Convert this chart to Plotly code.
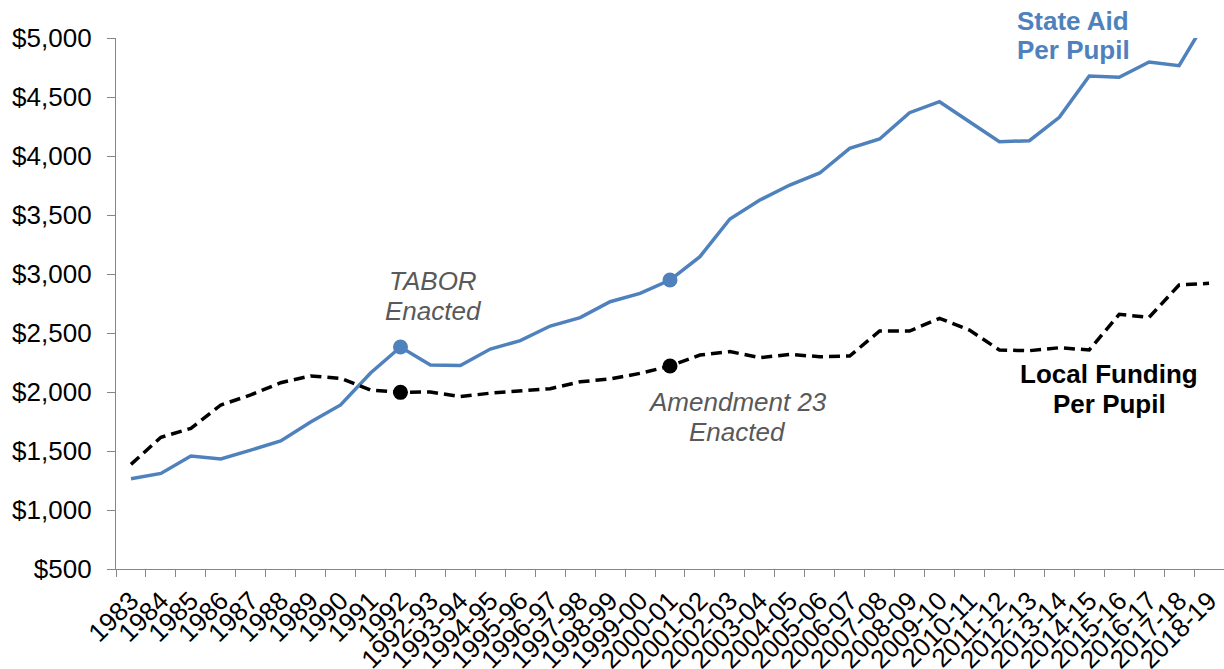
import plotly.graph_objects as go

years = ["1983", "1984", "1985", "1986", "1987", "1988", "1989", "1990", "1991", "1992",
         "1992-93", "1993-94", "1994-95", "1995-96", "1996-97", "1997-98", "1998-99",
         "1999-00", "2000-01", "2001-02", "2002-03", "2003-04", "2004-05", "2005-06",
         "2006-07", "2007-08", "2008-09", "2009-10", "2010-11", "2011-12", "2012-13",
         "2013-14", "2014-15", "2015-16", "2016-17", "2017-18", "2018-19"]

state_aid = [1265, 1310, 1458, 1432, 1508, 1585, 1746, 1890, 2161, 2381,
             2229, 2225, 2364, 2435, 2559, 2630, 2765, 2836, 2949, 3147,
             3466, 3627, 3754, 3856, 4065, 4144, 4367, 4460, 4290, 4121,
             4130, 4328, 4678, 4667, 4797, 4765, 5190]

local_funding = [1387, 1616, 1692, 1890, 1975, 2079, 2136, 2116, 2017, 1997,
                 2000, 1961, 1990, 2011, 2028, 2087, 2110, 2158, 2220, 2313,
                 2342, 2291, 2319, 2299, 2305, 2517, 2517, 2624, 2525, 2356,
                 2350, 2375, 2356, 2658, 2633, 2907, 2921]

event_years = ["1992", "2000-01"]

BLUE = "#4F81BD"
GRAY = "#595959"
AXIS = "#868686"
FONT = "Liberation Sans, Arial, sans-serif"

ev_idx = [years.index(y) for y in event_years]

fig = go.Figure()
fig.add_trace(go.Scatter(x=years, y=state_aid, mode="lines",
                         line=dict(color=BLUE, width=3.5), showlegend=False))
fig.add_trace(go.Scatter(x=years, y=local_funding, mode="lines",
                         line=dict(color="black", width=3.5, dash="11px,6px"),
                         showlegend=False))
fig.add_trace(go.Scatter(x=event_years, y=[state_aid[i] for i in ev_idx], mode="markers",
                         marker=dict(color=BLUE, size=15), showlegend=False, cliponaxis=False))
fig.add_trace(go.Scatter(x=event_years, y=[local_funding[i] for i in ev_idx], mode="markers",
                         marker=dict(color="black", size=15), showlegend=False, cliponaxis=False))

def ann(text, x, y, color, bold=False, italic=False, xanchor="center"):
    t = text
    if bold:
        t = "<b>" + t + "</b>"
    if italic:
        t = "<i>" + t + "</i>"
    fig.add_annotation(text=t, x=x, y=y, xref="paper", yref="paper",
                       xanchor=xanchor, yanchor="middle", showarrow=False,
                       font=dict(family=FONT, size=26, color=color))

W, L, T, B = 1224, 116, 38, 569
def px(x):
    return (x - L) / (W - L)
def py(y):
    return (B - y) / (B - T)

ann("TABOR", px(433), py(281), GRAY, italic=True)
ann("Enacted", px(433), py(311), GRAY, italic=True)
ann("Amendment 23", px(737), py(402), GRAY, italic=True)
ann("Enacted", px(737), py(432), GRAY, italic=True)
ann("State Aid", px(1015), py(21), BLUE, bold=True, xanchor="left")
ann("Per Pupil", px(1015), py(50), BLUE, bold=True, xanchor="left")
ann("Local Funding", px(1109), py(374), "black", bold=True)
ann("Per Pupil", px(1109), py(404), "black", bold=True)

fig.update_layout(
    template="none",
    width=1224, height=669,
    margin=dict(l=116, r=0, t=38, b=100),
    paper_bgcolor="white", plot_bgcolor="white",
    font=dict(family=FONT, size=25, color="black"),
    showlegend=False,
)
fig.update_xaxes(type="category", range=[-0.5, 36.5], tickangle=-45,
                 tickmode="linear", tick0=0, dtick=1,
                 showgrid=False, showline=True, linecolor=AXIS, linewidth=1.3,
                 ticks="outside", tickson="boundaries", ticklen=7, tickcolor=AXIS,
                 tickwidth=1.3, ticklabelstandoff=5,
                 tickfont=dict(family=FONT, size=26, color="black"),
                 zeroline=False, automargin=False)
fig.update_yaxes(range=[500, 5000], dtick=500, tick0=500, tickprefix="$", tickformat=",d",
                 showgrid=False, showline=True, linecolor=AXIS, linewidth=1.3,
                 ticks="outside", ticklen=8, tickcolor=AXIS, tickwidth=1.3,
                 ticklabelstandoff=10,
                 tickfont=dict(family=FONT, size=26, color="black"),
                 zeroline=False, automargin=False)

fig.write_html("out.html", config={"displayModeBar": False},
               post_script="document.body.style.margin='0';document.body.style.padding='0';document.body.style.overflow='hidden';")
